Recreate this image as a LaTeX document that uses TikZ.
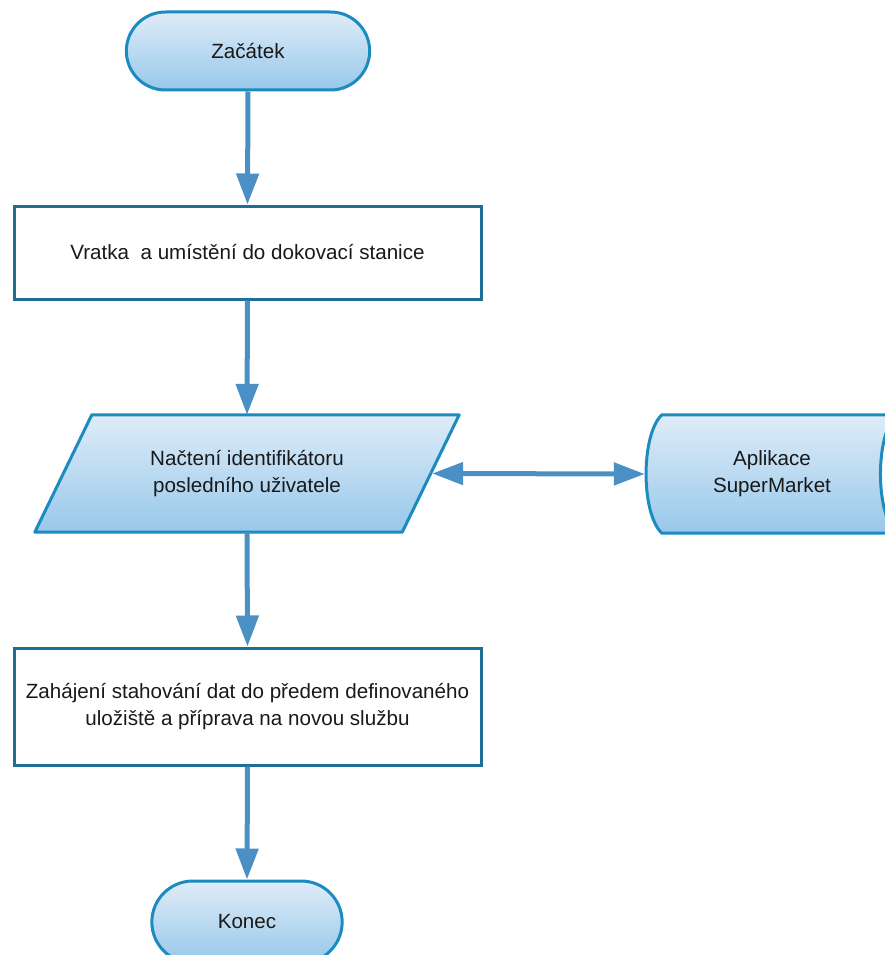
\documentclass[tikz,border=0pt]{standalone}
\usepackage{fontspec}
\setmainfont{Liberation Sans}
\usetikzlibrary{shapes.misc,shapes.geometric,arrows.meta}
\definecolor{shapeborder}{HTML}{1B8BC0}
\definecolor{boxborder}{HTML}{1E6E98}
\definecolor{arrowblue}{HTML}{4A90C4}
\definecolor{filltop}{HTML}{DFECF8}
\definecolor{fillbot}{HTML}{97C8EA}
\tikzset{
  txt/.style={font=\fontsize{20.6}{27}\selectfont, align=center, text=black!90},
  shaded/.style={top color=filltop, bottom color=fillbot, draw=shapeborder, line width=3pt, line join=round},
  terminal/.style={txt, shaded, rounded rectangle},
  procbox/.style={txt, rectangle, draw=boxborder, line width=3pt, fill=white},
  flow/.style={draw=arrowblue, line width=5pt, -{Triangle[width=22pt,length=31pt]}},
  dflow/.style={draw=arrowblue, line width=5pt, {Triangle[width=22pt,length=31pt]}-{Triangle[width=22pt,length=31pt]}}
}
\begin{document}
\begin{tikzpicture}[x=1pt,y=-1pt]
\useasboundingbox (0,0) rectangle (885,955);
\clip (0,0) rectangle (885,955);
\node[terminal, minimum width=250pt, minimum height=78pt] (start) at (248,51) {Začátek};
\node[procbox, minimum width=467pt, minimum height=93pt] (box1) at (247.5,252.5) {Vratka\ \ a umístění do dokovací stanice};
% parallelogram (input/output)
\node[rectangle, minimum width=424pt, minimum height=117pt] (para) at (247,473.5) {};
\path[shaded] ([xshift=57pt]para.north west) -- (para.north east) -- ([xshift=-57pt]para.south east) -- (para.south west) -- cycle;
\node[txt] (paralabel) at (para.center) {Načtení identifikátoru\\posledního uživatele};
% stored data
\node[rectangle, minimum width=252pt, minimum height=118pt] (app) at (772,474) {};
\path[shaded] ([xshift=16pt]app.north west) -- ([xshift=-2pt]app.north east)
  .. controls ([xshift=-23pt,yshift=-20pt]app.north east) and ([xshift=-23pt,yshift=20pt]app.south east) .. ([xshift=-2pt]app.south east)
  -- ([xshift=16pt]app.south west)
  .. controls ([xshift=-5pt,yshift=20pt]app.south west) and ([xshift=-5pt,yshift=-20pt]app.north west) .. cycle;
\node[txt] (applabel) at (app.center) {Aplikace\\SuperMarket};
\node[procbox, minimum width=467pt, minimum height=117pt] (box2) at (247.5,706.5) {Zahájení stahování dat do předem definovaného\\uložiště a příprava na novou službu};
\node[terminal, minimum width=197pt, minimum height=82pt] (konec) at (247,922) {Konec};
\draw[flow] (start.south) -- (box1.north);
\draw[flow] (box1.south) -- (para.north);
\draw[flow] (para.south) -- (box2.north);
\draw[flow] (box2.south) -- (konec.north);
\draw[dflow] ([xshift=-27pt]para.east) -- ([xshift=-1pt]app.west);
\end{tikzpicture}
\end{document}
